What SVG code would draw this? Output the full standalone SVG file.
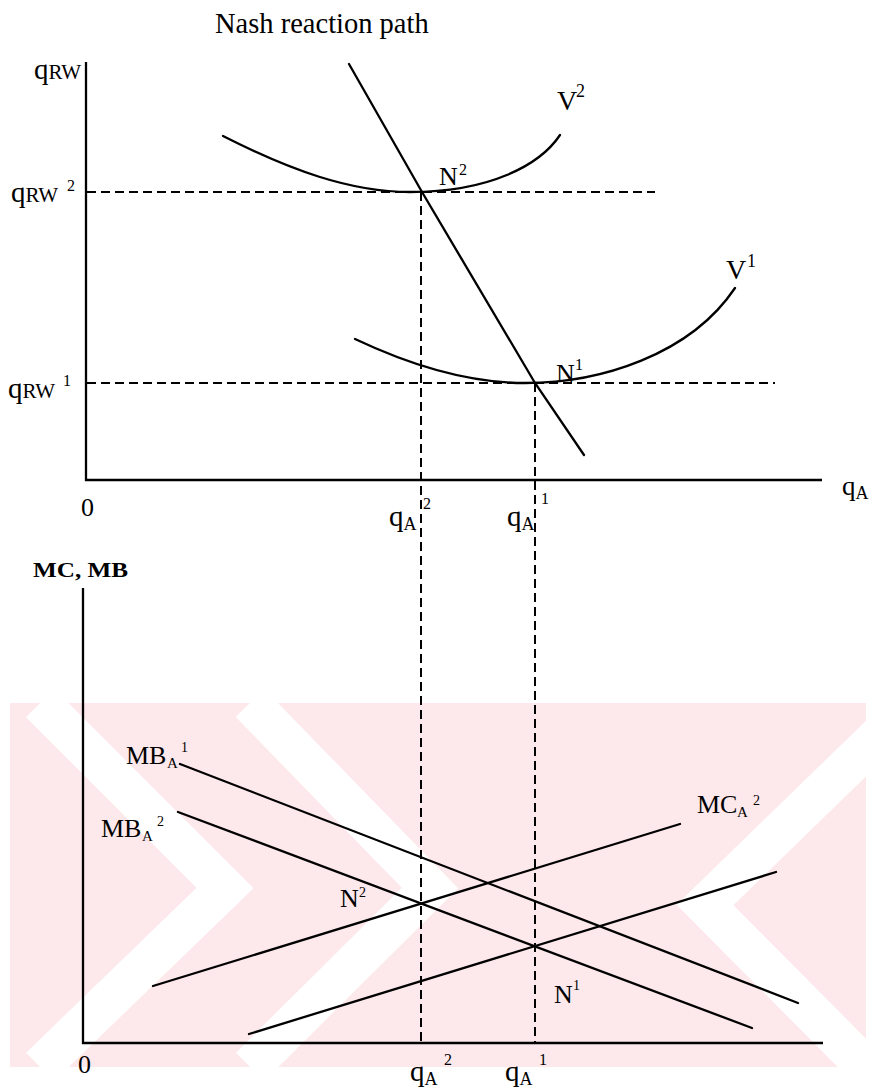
<svg xmlns="http://www.w3.org/2000/svg" width="876" height="1089" viewBox="0 0 876 1089">
<style>
.ln{fill:none;stroke:#000;stroke-width:2.3;stroke-linecap:round}
.ax{fill:none;stroke:#000;stroke-width:2.3}
.ds{fill:none;stroke:#000;stroke-width:2;stroke-dasharray:9 5}
.wm{fill:none;stroke:#fff;stroke-width:40}
text{font-family:"Liberation Serif","Times New Roman",serif;fill:#000}
.lb{font-size:26px}
.q{font-size:29px}
.rw{font-size:21px}
.sub{font-size:18px}
.sup{font-size:16px}
</style>
<g id="watermark">
<rect x="10" y="703" width="856" height="364" fill="#fde8eb"/>
<polyline class="wm" points="40,703 225,888 40,1067"/>
<polyline class="wm" points="250,703 430,888 250,1067"/>
<polyline class="wm" points="880,735 705,905 866,1067"/>
</g>
<g id="axes">
<line class="ax" x1="86" y1="62" x2="86" y2="481"/>
<line class="ax" x1="85" y1="480" x2="822" y2="480"/>
<line class="ax" x1="83" y1="588" x2="83" y2="1044"/>
<line class="ax" x1="82" y1="1043" x2="823" y2="1043"/>
</g>
<g id="connectors">
<line class="ds" x1="87" y1="192" x2="655" y2="192"/>
<line class="ds" x1="87" y1="383" x2="775" y2="383"/>
<line class="ds" x1="421" y1="192" x2="421" y2="1043"/>
<line class="ds" x1="535" y1="383" x2="535" y2="1043"/>
<polyline class="ln" points="349,64 422,192 535,383 584,455"/>
<path class="ln" d="M223,136 C290,170 350,192 410,192 C490,192 540,165 560,135"/>
<path class="ln" d="M355,339 C410,365 470,383 525,383 C600,383 690,355 735,288"/>
<line class="ln" x1="180" y1="764" x2="798" y2="1003"/>
<line class="ln" x1="178" y1="812" x2="752" y2="1028"/>
<line class="ln" x1="153" y1="986" x2="680" y2="824"/>
<line class="ln" x1="249" y1="1034" x2="776" y2="872"/>
</g>
<g id="title"><text x="215" y="33" style="font-size:28.5px">Nash reaction path</text></g>
<g id="label-qRW"><text x="34" y="79"><tspan class="q">q</tspan><tspan class="rw">RW</tspan></text></g>
<g id="label-qRW2"><text x="11" y="202"><tspan class="q">q</tspan><tspan class="rw">RW</tspan></text><text class="sup" x="67" y="191">2</text></g>
<g id="label-qRW1"><text x="8" y="398"><tspan class="q">q</tspan><tspan class="rw">RW</tspan></text><text class="sup" x="63" y="386">1</text></g>
<g id="label-V2"><text x="557" y="110" style="font-size:28px">V</text><text x="576" y="97" style="font-size:18px">2</text></g>
<g id="label-V1"><text x="726" y="279" style="font-size:28px">V</text><text x="747" y="267" style="font-size:18px">1</text></g>
<g id="label-N2-top"><text class="lb" x="439" y="185">N</text><text class="sup" x="459" y="175">2</text></g>
<g id="label-N1-top"><text class="lb" x="556" y="382">N</text><text class="sup" x="575" y="370">1</text></g>
<g id="label-qA-axis"><text x="842" y="495"><tspan style="font-size:27px">q</tspan><tspan class="sub" dy="4">A</tspan></text></g>
<g id="label-0-top"><text x="81" y="516" style="font-size:26px">0</text></g>
<g id="label-qA2-top"><text x="389" y="526"><tspan class="q">q</tspan><tspan class="sub" dy="4">A</tspan></text><text class="sup" x="423" y="509">2</text></g>
<g id="label-qA1-top"><text x="507" y="526"><tspan class="q">q</tspan><tspan class="sub" dy="4">A</tspan></text><text class="sup" x="541" y="504">1</text></g>
<g id="label-MCMB"><text x="33" y="577" style="font-size:20px;font-weight:bold" textLength="95" lengthAdjust="spacingAndGlyphs">MC, MB</text></g>
<g id="label-MBA1"><text class="lb" x="126" y="764">MB</text><text x="167" y="768" style="font-size:15px">A</text><text x="181" y="752" style="font-size:14px">1</text></g>
<g id="label-MBA2"><text class="lb" x="101" y="837">MB</text><text x="142" y="841" style="font-size:15px">A</text><text x="157" y="826" style="font-size:14px">2</text></g>
<g id="label-MCA2"><text class="lb" x="697" y="813">MC</text><text x="737" y="817" style="font-size:15px">A</text><text x="753" y="805" style="font-size:14px">2</text></g>
<g id="label-N2-bottom"><text class="lb" x="340" y="907">N</text><text x="359" y="897" style="font-size:14px">2</text></g>
<g id="label-N1-bottom"><text class="lb" x="554" y="1003">N</text><text x="573" y="990" style="font-size:14px">1</text></g>
<g id="label-0-bottom"><text x="78" y="1073" style="font-size:26px">0</text></g>
<g id="label-qA2-bottom"><text x="410" y="1081"><tspan class="q">q</tspan><tspan class="sub" dy="4">A</tspan></text><text class="sup" x="444" y="1065">2</text></g>
<g id="label-qA1-bottom"><text x="505" y="1081"><tspan class="q">q</tspan><tspan class="sub" dy="4">A</tspan></text><text class="sup" x="539" y="1065">1</text></g>
</svg>
